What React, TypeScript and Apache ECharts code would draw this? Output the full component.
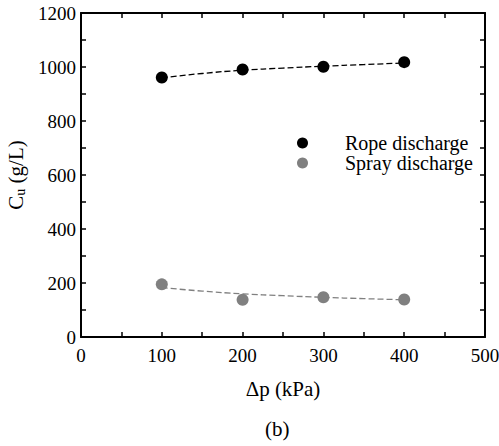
import React, { useEffect, useRef } from "react";
import * as echarts from "echarts";

const pressure = [100, 200, 300, 400];
const ropeValues = [961, 991, 1001, 1018];
const sprayValues = [195, 138, 147, 139];
const fitX = [100, 150, 200, 250, 300, 350, 400];
const ropeFit = [960, 976, 988, 996, 1003, 1009, 1015];
const sprayFit = [183, 170, 160, 153, 147, 142, 138];
const xTicks = [0, 100, 200, 300, 400, 500];
const yTicks = [0, 200, 400, 600, 800, 1000, 1200];

const FONT = "Liberation Serif";

export default function App() {
  const ref = useRef<HTMLDivElement>(null);
  useEffect(() => {
    if (!ref.current) return;
    const chart = echarts.init(ref.current, undefined, { renderer: "svg" });
    const axisCommon = {
      axisLine: { show: true, onZero: false, lineStyle: { color: "#000", width: 2 } },
      axisTick: { show: true, inside: true, length: 5, lineStyle: { color: "#000", width: 1.5 } },
      minorTick: { show: true, splitNumber: 2, length: 5, lineStyle: { color: "#000", width: 1.5 } },
      splitLine: { show: false },
    };
    const xMin = xTicks[0];
    const xMax = xTicks[xTicks.length - 1];
    const yMin = yTicks[0];
    const yMax = yTicks[yTicks.length - 1];
    const tickRich = { n: { fontFamily: FONT, fontSize: 19, color: "#000" } };
    const plain = (v: number) => `{n|${v}}`;
    chart.setOption({
      animation: false,
      textStyle: { fontFamily: FONT, color: "#000" },
      grid: { left: 81, top: 13, width: 404, height: 324, containLabel: false, outerBoundsMode: "none" },
      xAxis: [
        {
          type: "value", position: "bottom", min: xMin, max: xMax, interval: 100,
          ...axisCommon,
          axisLabel: { color: "#000", fontFamily: FONT, fontSize: 19, margin: 9, formatter: plain, rich: tickRich },
          name: "{t|Δp (kPa)}", nameLocation: "middle", nameGap: 41,
          nameTextStyle: {
            color: "#000", fontFamily: FONT, fontSize: 21,
            rich: { t: { fontFamily: FONT, fontSize: 21, color: "#000" } },
          },
        },
        {
          type: "value", position: "top", min: xMin, max: xMax, interval: 100,
          ...axisCommon, axisLabel: { show: false },
        },
      ],
      yAxis: [
        {
          type: "value", position: "left", min: yMin, max: yMax, interval: 200,
          ...axisCommon,
          axisLabel: { color: "#000", fontFamily: FONT, fontSize: 19, margin: 5, formatter: plain, rich: tickRich },
          name: "{a|C}{s|u}{a| (g/L)}", nameLocation: "middle", nameGap: 19,
          nameTextStyle: {
            color: "#000", fontFamily: FONT, fontSize: 21,
            rich: {
              a: { fontFamily: FONT, fontSize: 21, color: "#000" },
              s: { fontFamily: FONT, fontSize: 14, color: "#000", verticalAlign: "bottom", padding: [8, 0, 0, 0] },
            },
          },
        },
        {
          type: "value", position: "right", min: yMin, max: yMax, interval: 200,
          ...axisCommon, axisLabel: { show: false },
        },
      ],
      legend: {
        orient: "vertical", left: 292, top: 128, itemGap: 0,
        icon: "circle", itemWidth: 11, itemHeight: 11,
        data: ["Rope discharge", "Spray discharge"],
        textStyle: { color: "#000", fontFamily: FONT, fontSize: 20, padding: [0, 0, 0, 32] },
      },
      series: [
        {
          name: "Rope fit", type: "line", data: fitX.map((x, i) => [x, ropeFit[i]]),
          smooth: true, showSymbol: false, symbol: "none",
          lineStyle: { color: "#000", width: 1.3, type: [6, 3] }, z: 1,
        },
        {
          name: "Spray fit", type: "line", data: fitX.map((x, i) => [x, sprayFit[i]]),
          smooth: true, showSymbol: false, symbol: "none",
          lineStyle: { color: "#808080", width: 1.3, type: [6, 3] }, z: 1,
        },
        {
          name: "Rope discharge", type: "scatter", data: pressure.map((x, i) => [x, ropeValues[i]]),
          symbol: "circle", symbolSize: 12, itemStyle: { color: "#000", opacity: 1 }, z: 3,
        },
        {
          name: "Spray discharge", type: "scatter", data: pressure.map((x, i) => [x, sprayValues[i]]),
          symbol: "circle", symbolSize: 12, itemStyle: { color: "#808080", opacity: 1 }, z: 3,
        },
      ],
      graphic: [
        {
          type: "text", left: 265, top: 418,
          style: { text: "(b)", fill: "#000", font: `21px "${FONT}"` },
        },
      ],
    });
    return () => chart.dispose();
  }, []);
  return <div ref={ref} style={{ position: "absolute", left: 0, top: 0, width: 499, height: 446 }} />;
}
